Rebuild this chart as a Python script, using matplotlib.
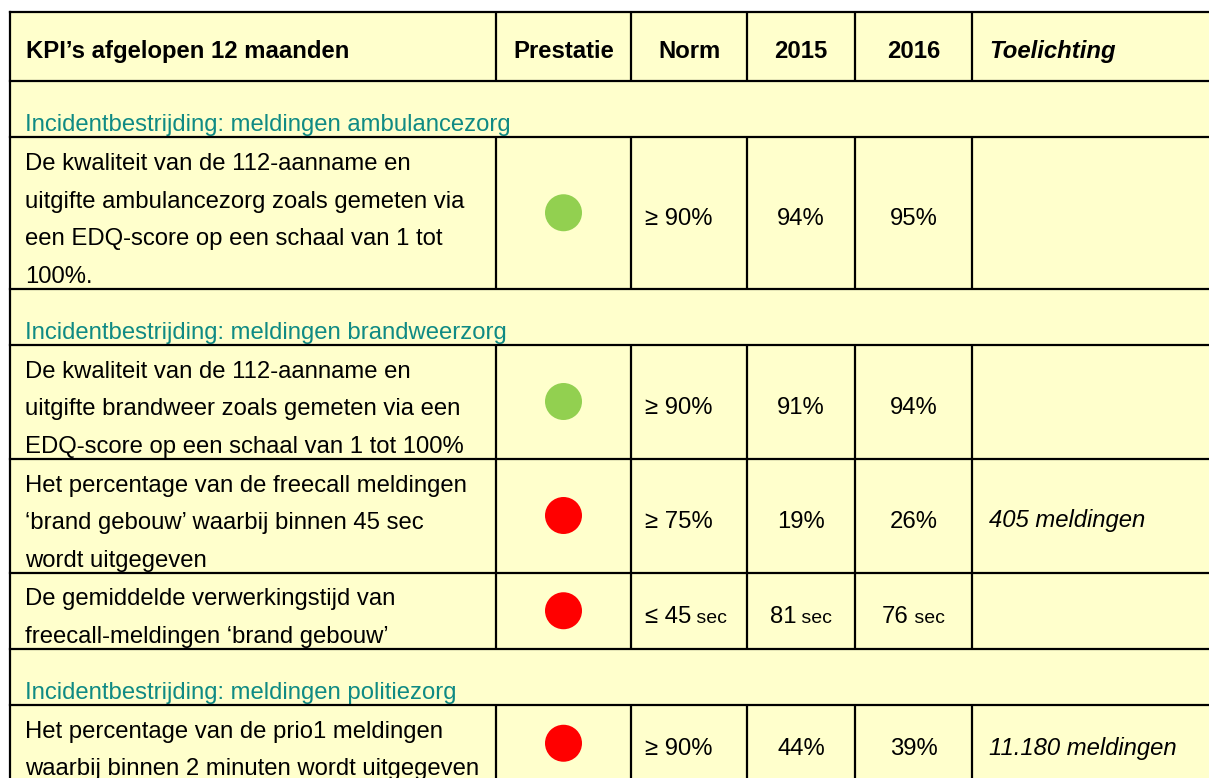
import matplotlib
matplotlib.use("Agg")
import matplotlib.pyplot as plt
from matplotlib.patches import Rectangle, Ellipse

plt.rcParams['font.family'] = ['Liberation Sans', 'DejaVu Sans']

# ---------------- data ----------------
header_labels = ["KPI’s afgelopen 12 maanden", "Prestatie", "Norm", "2015", "2016", "Toelichting"]
section_titles = [
    "Incidentbestrijding: meldingen ambulancezorg",
    "Incidentbestrijding: meldingen brandweerzorg",
    "Incidentbestrijding: meldingen politiezorg",
]
kpi_section = [0, 1, 1, 1, 2]
kpi_texts = [
    ["De kwaliteit van de 112-aanname en",
     "uitgifte ambulancezorg zoals gemeten via",
     "een EDQ-score op een schaal van 1 tot",
     "100%."],
    ["De kwaliteit van de 112-aanname en",
     "uitgifte brandweer zoals gemeten via een",
     "EDQ-score op een schaal van 1 tot 100%"],
    ["Het percentage van de freecall meldingen",
     "‘brand gebouw’ waarbij binnen 45 sec",
     "wordt uitgegeven"],
    ["De gemiddelde verwerkingstijd van",
     "freecall-meldingen ‘brand gebouw’"],
    ["Het percentage van de prio1 meldingen",
     "waarbij binnen 2 minuten wordt uitgegeven"],
]
kpi_status = ["groen", "groen", "rood", "rood", "rood"]
norm_values = ["≥ 90%", "≥ 90%", "≥ 75%", "≤ 45", "≥ 90%"]
values_2015 = ["94%", "91%", "19%", "81", "44%"]
values_2016 = ["95%", "94%", "26%", "76", "39%"]
value_units = ["", "", "", "sec", ""]
toelichting = ["", "", "405 meldingen", "", "11.180 meldingen"]

# ---------------- style / layout ----------------
W, H = 1209, 778
BG = "#FFFFCC"
TEAL = "#0F8A84"
STATUS_COLORS = {"groen": "#92D050", "rood": "#FF0000"}
FS = 17.2
FS_UNIT = 14
LW = 1.6
col_edges = [10, 496, 631, 747, 855, 972, 1215]
y_top = 12
header_h = 69
section_h = 56
line_h = 37.5
row_pad = 1.5
text_x = 25
norm_x = 645
toel_x = 989

fig = plt.figure(figsize=(W / 100, H / 100), dpi=100)
fig.patch.set_facecolor("white")
ax = fig.add_axes([0, 0, 1, 1])
ax.set_xlim(0, W)
ax.set_ylim(H, 0)
ax.axis("off")

# build row structure
rows = []
prev = None
for i, s in enumerate(kpi_section):
    if s != prev:
        rows.append(("section", s))
        prev = s
    rows.append(("kpi", i))

# compute y boundaries
bounds = [y_top, y_top + header_h]
for kind, idx in rows:
    h = section_h if kind == "section" else len(kpi_texts[idx]) * line_h + row_pad
    bounds.append(bounds[-1] + h)

ax.add_patch(Rectangle((col_edges[0], y_top), col_edges[-1] - col_edges[0], bounds[-1] + 20 - y_top,
                       facecolor=BG, edgecolor="none", zorder=0))

def hline(y):
    ax.plot([col_edges[0], col_edges[-1]], [y, y], color="black", lw=LW,
            solid_capstyle="projecting", zorder=3)

def vlines(y0, y1):
    for x in col_edges[1:-1]:
        ax.plot([x, x], [y0, y1], color="black", lw=LW, solid_capstyle="butt", zorder=3)

# outer border
hline(y_top)
ax.plot([col_edges[0], col_edges[0]], [y_top, bounds[-1] + 20], color="black", lw=LW,
        solid_capstyle="projecting", zorder=3)

# header
hb = y_top + header_h / 2 + 11
ax.text(text_x + 1, hb, header_labels[0], fontsize=FS, fontweight="bold", va="baseline", ha="left")
for j in range(1, 5):
    cx = (col_edges[j] + col_edges[j + 1]) / 2
    ax.text(cx, hb, header_labels[j], fontsize=FS, fontweight="bold", va="baseline", ha="center")
ax.text(toel_x, hb, header_labels[5], fontsize=FS, fontweight="bold", style="italic",
        va="baseline", ha="left")
hline(bounds[1])
vlines(bounds[0], bounds[1])

pending = []  # (main_text, unit_text, mode, anchor_x)
for r, (kind, idx) in enumerate(rows):
    top, bot = bounds[r + 1], bounds[r + 2]
    if kind == "section":
        ax.text(text_x, bot - 6, section_titles[idx], fontsize=FS, color=TEAL,
                va="baseline", ha="left")
    else:
        for k, line in enumerate(kpi_texts[idx]):
            ax.text(text_x, top + 33 + k * line_h, line, fontsize=FS, color="#000000",
                    va="baseline", ha="left")
        mid = (top + bot) / 2
        cx = (col_edges[1] + col_edges[2]) / 2
        ax.add_patch(Ellipse((cx, mid), 37, 37, facecolor=STATUS_COLORS[kpi_status[idx]],
                             edgecolor="none", zorder=2))
        vb = mid + 12
        unit = value_units[idx]
        for val, mode, ax_x in [(norm_values[idx], "left", norm_x),
                                (values_2015[idx], "center", (col_edges[3] + col_edges[4]) / 2),
                                (values_2016[idx], "center", (col_edges[4] + col_edges[5]) / 2)]:
            t_main = ax.text(ax_x, vb, val, fontsize=FS, va="baseline", ha="left")
            t_unit = ax.text(ax_x, vb, (" " + unit) if unit else "", fontsize=FS_UNIT,
                             va="baseline", ha="left")
            pending.append((t_main, t_unit, mode, ax_x))
        if toelichting[idx]:
            ax.text(toel_x, vb, toelichting[idx], fontsize=FS, style="italic",
                    va="baseline", ha="left")
        vlines(top, bot)
    hline(bot)

# position value + unit pairs
fig.canvas.draw()
renderer = fig.canvas.get_renderer()
for t_main, t_unit, mode, ax_x in pending:
    w_main = t_main.get_window_extent(renderer).width
    w_unit = t_unit.get_window_extent(renderer).width if t_unit.get_text() else 0
    if mode == "center":
        x0 = ax_x - (w_main + w_unit) / 2
    else:
        x0 = ax_x
    t_main.set_x(x0)
    t_unit.set_x(x0 + w_main)

fig.savefig("out.png", dpi=100, facecolor="white")
